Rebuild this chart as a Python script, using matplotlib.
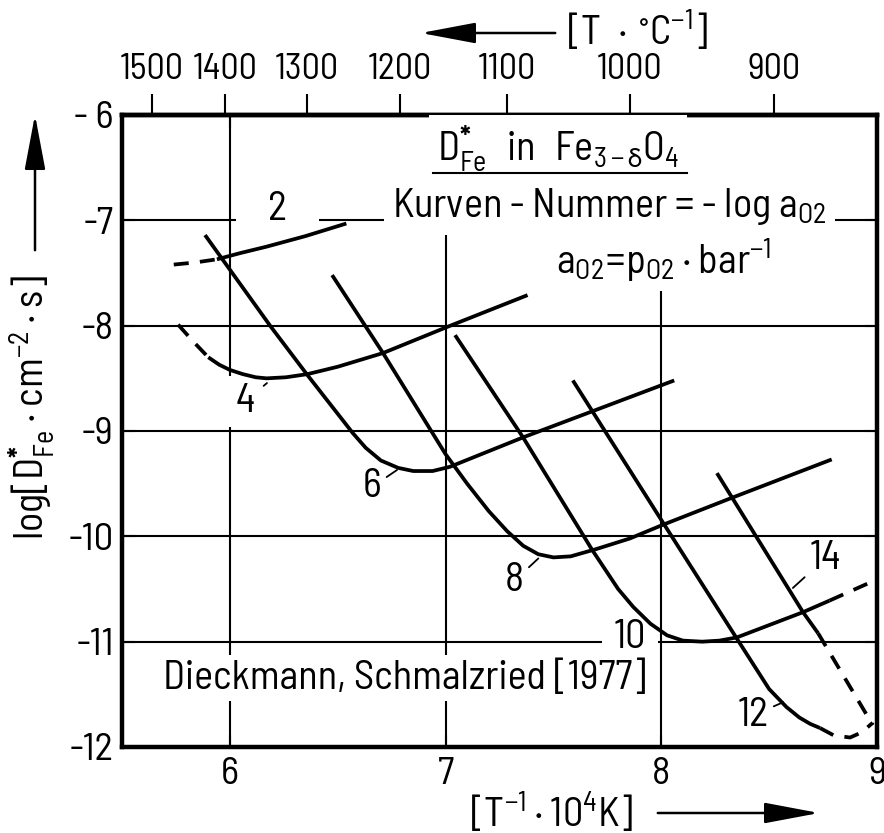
import numpy as np
import matplotlib.pyplot as plt
from matplotlib import font_manager
from matplotlib.patches import FancyArrowPatch
from matplotlib.lines import Line2D

# narrow DIN-like face if available
have = {f.name for f in font_manager.fontManager.ttflist}
face = next((f for f in ['Barlow Semi Condensed', 'Roboto Condensed', 'Liberation Sans Narrow']
             if f in have), 'DejaVu Sans')
plt.rcParams['font.family'] = [face, 'DejaVu Sans']
plt.rcParams['mathtext.fontset'] = 'custom'
plt.rcParams['mathtext.rm'] = face
plt.rcParams['mathtext.it'] = face + ':italic'
plt.rcParams['mathtext.bf'] = face + ':bold'
plt.rcParams['mathtext.fallback'] = 'stixsans'
plt.rcParams['axes.unicode_minus'] = False

# curve number = -log a_O2 ; x = 1e4/T [1/K], y = log D*
k2_dash_x = [5.74, 5.84, 5.94]
k2_dash_y = [-7.42, -7.40, -7.37]
k2_x = [5.94, 6.05, 6.17, 6.35, 6.54]
k2_y = [-7.37, -7.31, -7.25, -7.15, -7.03]

k4_dash_x = [5.76, 5.83, 5.90]
k4_dash_y = [-7.99, -8.15, -8.30]
k4_x = [5.90, 5.95, 6.00, 6.06, 6.12, 6.17, 6.26, 6.36, 6.50, 6.71, 7.01, 7.38]
k4_y = [-8.30, -8.37, -8.42, -8.46, -8.49, -8.50, -8.49, -8.46, -8.39, -8.26, -8.01, -7.71]

k6_x = [5.885, 6.19, 6.36, 6.57, 6.63, 6.70, 6.78, 6.85, 6.94, 7.02, 7.36, 8.06]
k6_y = [-7.14, -8.01, -8.47, -9.02, -9.16, -9.28, -9.35, -9.38, -9.38, -9.34, -9.06, -8.52]

k8_x = [6.474, 6.71, 7.00, 7.10, 7.20, 7.285, 7.36, 7.43, 7.50, 7.58, 7.70, 7.855, 8.008, 8.32, 8.79]
k8_y = [-7.52, -8.26, -9.22, -9.50, -9.76, -9.95, -10.09, -10.17, -10.20, -10.19, -10.12, -10.02, -9.89, -9.64, -9.27]

k10_x = [7.044, 7.359, 7.68, 7.80, 7.87, 7.95, 8.027, 8.10, 8.19, 8.27, 8.35, 8.657, 8.78]
k10_y = [-8.09, -9.06, -10.13, -10.50, -10.67, -10.83, -10.94, -10.99, -11.00, -10.99, -10.96, -10.72, -10.61]
k10_dash_x = [8.78, 8.977]
k10_dash_y = [-10.61, -10.43]

k12_x = [7.59, 8.008, 8.35, 8.50, 8.58, 8.64, 8.69, 8.736]
k12_y = [-8.52, -9.87, -10.97, -11.45, -11.62, -11.72, -11.78, -11.82]
k12_dash_x = [8.736, 8.80, 8.875, 8.93, 8.98]
k12_dash_y = [-11.82, -11.89, -11.91, -11.86, -11.77]

k14_x = [8.258, 8.657, 8.727]
k14_y = [-9.40, -10.72, -10.92]
k14_dash_x = [8.727, 8.98]
k14_dash_y = [-10.92, -11.79]

# curve labels: text position and end of the leader line
lab_names = ['2', '4', '6', '8', '10', '12', '14']
lab_x = [6.22, 6.07, 6.66, 7.32, 7.855, 8.425, 8.76]
lab_y = [-6.90, -8.72, -9.53, -10.42, -10.96, -11.70, -10.21]
tip_x = [6.172, 6.172, 6.775, 7.43, 7.985, 8.565, 8.61]
tip_y = [-7.22, -8.545, -9.37, -10.21, -10.87, -11.575, -10.49]
lab_pad = [0.8, 0.17, None, None, 0.3, None, None]

x_ticks = [6, 7, 8, 9]
y_ticks = [-6, -7, -8, -9, -10, -11, -12]
y_ticklabels = ['- 6', '-7', '-8', '-9', '-10', '-11', '-12']
celsius_ticks = [1500, 1400, 1300, 1200, 1100, 1000, 900]

FS = 29
TS = 28

fig = plt.figure(figsize=(8.84, 8.33), dpi=100)
W, H = 884, 833
ax = fig.add_axes([122 / W, 1 - 747 / H, 755 / W, 632 / H])
ax.set_xlim(5.5, 9)
ax.set_ylim(-12, -6)

solid = [(k2_x, k2_y), (k4_x, k4_y), (k6_x, k6_y), (k8_x, k8_y),
         (k10_x, k10_y), (k12_x, k12_y), (k14_x, k14_y)]
dashed = [(k2_dash_x, k2_dash_y), (k4_dash_x, k4_dash_y), (k10_dash_x, k10_dash_y),
          (k12_dash_x, k12_dash_y), (k14_dash_x, k14_dash_y)]
for xs, ys in solid:
    ax.plot(xs, ys, color='black', lw=2.7, solid_capstyle='butt',
            solid_joinstyle='round', zorder=4)
for xs, ys in dashed:
    ax.plot(xs, ys, color='black', lw=2.7, ls=(0, (4, 3)), zorder=4)

for name, tx, ty, px, py, pad in zip(lab_names, lab_x, lab_y, tip_x, tip_y, lab_pad):
    bbox = None if pad is None else dict(boxstyle=f'square,pad={pad}', fc='white', ec='none')
    ax.annotate(name, xy=(px, py), xytext=(tx, ty), ha='center', va='center',
                fontsize=FS, bbox=bbox, zorder=3,
                arrowprops=dict(arrowstyle='-', lw=1.3, color='black',
                                shrinkA=2, shrinkB=0))

ax.set_xticks(x_ticks)
ax.set_yticks(y_ticks)
ax.set_yticklabels(y_ticklabels)
ax.tick_params(axis='both', direction='in', length=9, width=1.5, labelsize=TS,
               top=True, right=True)
ax.tick_params(axis='x', pad=7)
ax.tick_params(axis='y', pad=6)
ax.grid(True, color='black', lw=1.5)
ax.set_axisbelow(True)
for s in ax.spines.values():
    s.set_linewidth(3.2)


def to_celsius(x):
    x = np.asarray(x, dtype=float)
    with np.errstate(divide='ignore', invalid='ignore'):
        return 1e4 / x - 273.15


def to_inv(t):
    t = np.asarray(t, dtype=float)
    with np.errstate(divide='ignore', invalid='ignore'):
        return 1e4 / (t + 273.15)


sec = ax.secondary_xaxis('top', functions=(to_celsius, to_inv))
sec.set_xticks(celsius_ticks)
sec.tick_params(direction='out', length=15, width=1.5, labelsize=26, pad=6)
sec.spines['top'].set_linewidth(3.2)

white = dict(boxstyle='square,pad=0.2', fc='white', ec='none')
ax.text(7.52, -6.32, r'$\mathrm{D^{\mathbf{*}}_{Fe}\ \ in\ \ Fe_{3-\delta}O_4}$',
        ha='center', va='center', fontsize=FS, bbox=white, zorder=3)
ax.add_line(Line2D([(433 - 122) / 755, (687 - 122) / 755], [1 - 58 / 632] * 2,
                   transform=ax.transAxes, color='black', lw=1.5, zorder=3))
ax.text(7.76, -6.87, r'Kurven - Nummer = - log $\mathrm{a_{O2}}$',
        ha='center', va='center', fontsize=FS, bbox=white, zorder=3)
ax.text(8.01, -7.37, r'$\mathrm{a_{O2}\!=\!p_{O2}\cdot bar^{-1}}$',
        ha='center', va='center', fontsize=FS, bbox=white, zorder=3)
ax.text(6.81, -11.345, 'Dieckmann, Schmalzried [1977]',
        ha='center', va='center', fontsize=FS, zorder=3,
        bbox=dict(boxstyle='square,pad=0.12', fc='white', ec='none'))

# axis titles and arrows in figure pixels
fig.text(32 / W, 1 - 408 / H, r'$\mathrm{log[D^{\mathbf{*}}_{Fe}\cdot cm^{-2}\cdot s]}$',
         rotation=90, ha='center', va='center', fontsize=FS)
fig.text(552 / W, 1 - 812 / H, r'$\mathrm{[T^{-1}\cdot 10^4 K]}$',
         ha='center', va='center', fontsize=FS)
fig.text(638 / W, 1 - 30 / H, r'$\mathrm{[T\ \cdot\, ^{\circ}C^{-1}]}$',
         ha='center', va='center', fontsize=FS)

arrows = [((35, 253), (35, 112)), ((655, 813), (822, 813)), ((558, 33), (418, 33))]
for (x0, y0), (x1, y1) in arrows:
    fig.add_artist(FancyArrowPatch((x0 / W, 1 - y0 / H), (x1 / W, 1 - y1 / H),
                                   transform=fig.transFigure,
                                   arrowstyle='-|>,head_length=1.7,head_width=0.32',
                                   mutation_scale=20, lw=1.8, color='black'))

fig.savefig('out.png', dpi=100)
